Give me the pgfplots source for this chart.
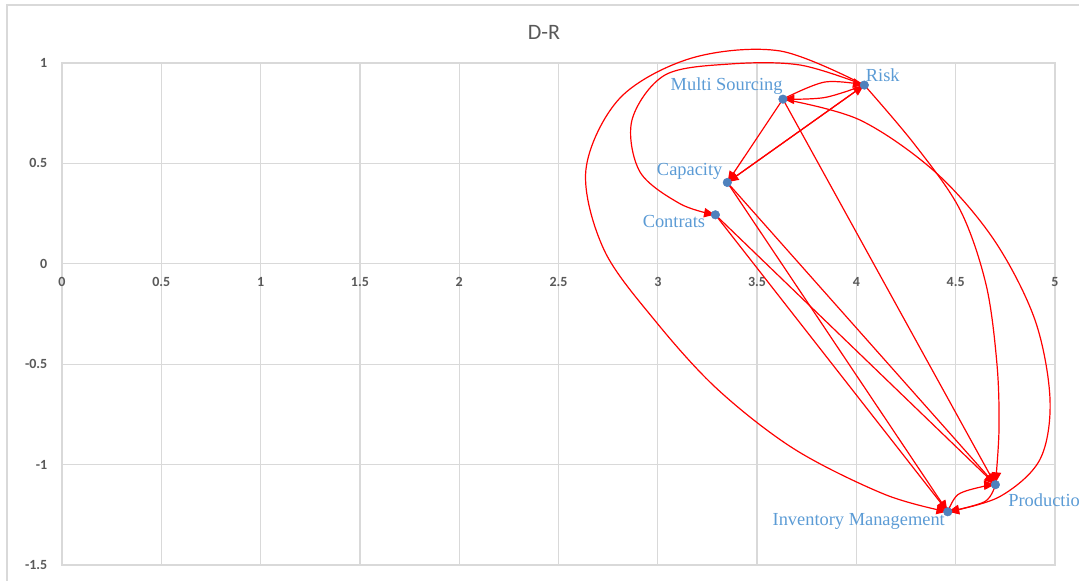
\documentclass[border=0pt]{standalone}
\usepackage{fontspec}
\setmainfont{Liberation Serif}
\newfontfamily\calib{Carlito}
\usepackage{pgfplots}
\pgfplotsset{compat=1.18}
\usetikzlibrary{arrows.meta}
\definecolor{gridgrey}{HTML}{D9D9D9}
\definecolor{ticktext}{HTML}{595959}
\definecolor{ptblue}{HTML}{4F81BD}
\definecolor{lblblue}{HTML}{5B9BD5}
\definecolor{arrred}{HTML}{FF0000}

\begin{document}
\begin{tikzpicture}
\useasboundingbox (-46.5pt,-12pt) rectangle (762.75pt,423.75pt);
% chart frame
\draw[gridgrey, line width=0.9pt] (-41.25pt,-20pt) -- (-41.25pt,420pt) -- (800pt,420pt);
\node[font=\calib\fontsize{16.5}{19}\selectfont, text=ticktext] at (361.5pt,399.75pt) {D-R};
\begin{axis}[
  at={(0pt,0pt)}, anchor=south west,
  scale only axis, width=744.75pt, height=376.5pt,
  xmin=0, xmax=5, ymin=-1.5, ymax=1,
  xtick={0,0.5,...,5}, ytick={-1.5,-1,...,1},
  grid=major,
  major grid style={gridgrey, line width=1pt},
  axis line style={gridgrey, line width=1pt},
  tick style={draw=none},
  /pgf/number format/assume math mode=true,
  ticklabel style={font=\calib\bfseries\fontsize{10.5}{12}\selectfont, text=ticktext},
  xticklabel style={yshift=219pt},
  yticklabel style={xshift=-7.5pt},
  clip=false,
  arr/.style={arrred, line width=0.9pt, -{Triangle[length=8pt,width=7pt]}, shorten >=0.5pt},
  carr/.style={arr, smooth, tension=0.55},
]

% factor positions
\addplot[only marks, mark=*, mark size=3.2pt, ptblue] coordinates {
  (4.04,0.89) (3.63,0.82) (3.35,0.405) (3.29,0.244) (4.70,-1.10) (4.46,-1.235)
};

% straight influence links
\addplot[arr] coordinates {(3.63,0.82) (3.35,0.405)};
\addplot[arr] coordinates {(4.04,0.89) (3.35,0.405)};
\addplot[arr] coordinates {(3.35,0.405) (4.04,0.89)};
\addplot[arr] coordinates {(3.63,0.82) (4.70,-1.10)};
\addplot[arr] coordinates {(3.35,0.405) (4.70,-1.10)};
\addplot[arr] coordinates {(3.35,0.405) (4.46,-1.235)};
\addplot[arr] coordinates {(3.29,0.244) (4.70,-1.10)};
\addplot[arr] coordinates {(3.29,0.244) (4.46,-1.235)};

% curved links
\addplot[carr] coordinates {(3.63,0.82) (3.84,0.905) (4.04,0.89)};
\addplot[carr] coordinates {(4.04,0.89) (3.84,0.828) (3.63,0.82)};
% Risk -> Inventory Management (outer loop)
\addplot[carr] coordinates {
  (4.04,0.89) (3.615,1.060) (3.172,1.025) (2.810,0.826) (2.638,0.468)
  (2.729,0.070) (2.991,-0.289) (3.303,-0.627) (3.691,-0.925) (4.144,-1.149)
  (4.46,-1.235)
};
% Risk -> Contrats (inner loop)
\addplot[carr] coordinates {
  (4.04,0.89) (3.716,0.990) (3.364,0.995) (3.036,0.940) (2.870,0.716)
  (2.910,0.458) (3.112,0.299) (3.29,0.244)
};
% Risk -> Production
\addplot[carr] coordinates {
  (4.04,0.89) (4.295,0.592) (4.522,0.269) (4.653,-0.104) (4.708,-0.502)
  (4.718,-0.826) (4.70,-1.095)
};
% Multi Sourcing -> Inventory Management
\addplot[carr] coordinates {
  (3.63,0.82) (4.018,0.716) (4.396,0.458) (4.693,0.119) (4.899,-0.279)
  (4.975,-0.677) (4.924,-0.975) (4.723,-1.159) (4.46,-1.235)
};
% Inventory Management <-> Production
\addplot[carr] coordinates {(4.46,-1.235) (4.512,-1.149) (4.637,-1.109) (4.70,-1.10)};
\addplot[carr] coordinates {(4.70,-1.10) (4.647,-1.184) (4.46,-1.235)};

% factor names
\begin{scope}[every node/.style={font=\fontsize{13.8}{16}\selectfont, text=lblblue, inner sep=0pt}]
\node[anchor=west] at ([xshift=1pt,yshift=7.5pt]axis cs:4.04,0.89) {Risk};
\node[anchor=east] at ([yshift=9.5pt]axis cs:3.63,0.82) {Multi Sourcing};
\node[anchor=east] at ([xshift=-3.5pt,yshift=8.5pt]axis cs:3.35,0.405) {Capacity};
\node[anchor=east] at ([xshift=-7.5pt,yshift=-5pt]axis cs:3.29,0.244) {Contrats};
\node[anchor=west] at ([xshift=9.5pt,yshift=-12pt]axis cs:4.70,-1.10) {Production};
\node[anchor=east] at ([xshift=-2pt,yshift=-7pt]axis cs:4.46,-1.235) {Inventory Management};
\end{scope}
\end{axis}
\end{tikzpicture}
\end{document}
